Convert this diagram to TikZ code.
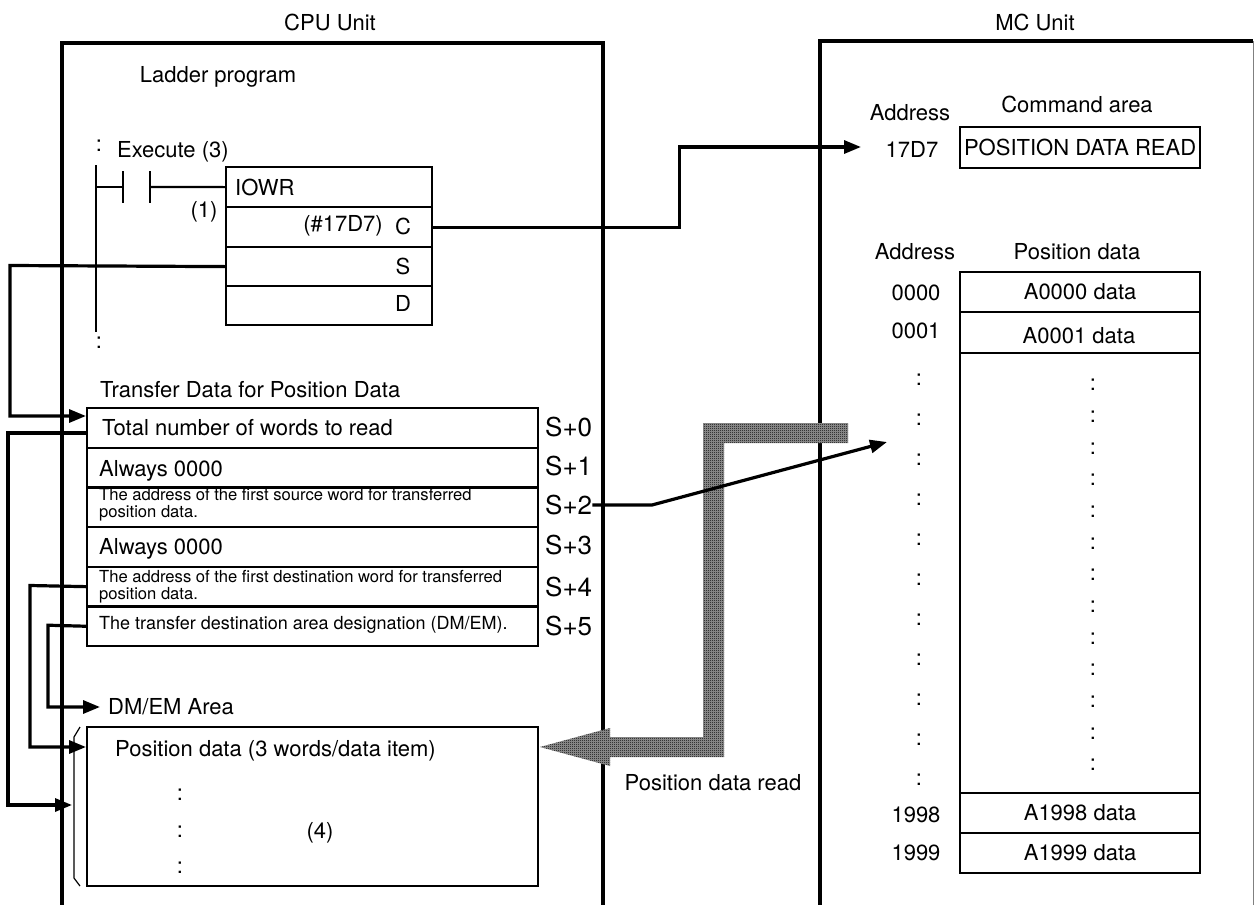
\documentclass[tikz,border=0pt]{standalone}
\usepackage{fontspec}
\setmainfont{TeX Gyre Heros}
\usetikzlibrary{arrows.meta,patterns}
\pgfdeclarepatternformonly{finechecker}{\pgfqpoint{0pt}{0pt}}{\pgfqpoint{2pt}{2pt}}{\pgfqpoint{2pt}{2pt}}{%
  \pgfpathrectangle{\pgfqpoint{0pt}{0pt}}{\pgfqpoint{1pt}{1pt}}%
  \pgfpathrectangle{\pgfqpoint{1pt}{1pt}}{\pgfqpoint{1pt}{1pt}}%
  \pgfusepath{fill}}
\begin{document}
\begin{tikzpicture}[x=1pt,y=-1pt,
  font=\fontsize{22}{26}\selectfont,
  frame/.style={line width=3.2pt},
  conn/.style={line width=3.2pt},
  arr/.style={conn,-{Triangle[length=17pt,width=13pt]}},
  cell/.style={draw,line width=2.2pt,inner sep=0pt,anchor=north west},
  lbl/.style={inner sep=0pt},
  small/.style={font=\fontsize{16.6}{18}\selectfont},
  slabel/.style={inner sep=0pt,anchor=west,font=\fontsize{26}{28}\selectfont}]
\useasboundingbox (0,0) rectangle (1254,905);

% titles and unit frames
\node[lbl] (cpu) at (330,22) {CPU Unit};
\node[lbl] (mc) at (1035,22) {MC Unit};
\draw[frame] (62,905) -- (62,43) -- (603,43) -- (603,905);
\draw[frame] (820,905) -- (820,41) -- (1253,41);
\draw[gray,line width=1pt] (1253,41) -- (1253,905);

\node[lbl] (ladder) at (218,77) {Ladder program};

% ladder
\node[lbl,anchor=west] (exe) at (117,152) {Execute (3)};
\node[lbl] (dt1) at (99,146) {:};
\coordinate (railtop) at (96,165);
\coordinate (railbot) at (96,332);
\draw[line width=2.2pt] (railtop) -- (railbot);
\node[lbl] (dt2) at (99,343) {:};

\node[cell,minimum width=206pt,minimum height=40pt] (iw0) at (225,166) {};
\node[cell,minimum width=206pt,minimum height=40pt] (iw1) at (225,206) {};
\node[cell,minimum width=206pt,minimum height=39pt] (iw2) at (225,246) {};
\node[cell,minimum width=206pt,minimum height=39pt] (iw3) at (225,285) {};
\node[lbl,anchor=west] (iowr) at (235,187) {IOWR};
\node[lbl] (one) at (204,212) {(1)};
\node[lbl,anchor=east] (hex) at (383,226) {(\#17D7)};
\node[lbl] (lc) at (403,226) {C};
\node[lbl] (ls) at (403,266) {S};
\node[lbl] (ld) at (403,303) {D};

\coordinate (c1) at (123,187);
\coordinate (c2) at (150,187);
\draw[line width=2.2pt] (96,187) -- (c1);
\draw[line width=2.2pt] (123,171) -- (123,203);
\draw[line width=2.2pt] (150,171) -- (150,203);
\draw[line width=2.2pt] (c2) -- (iw0.west);

% transfer data table
\node[lbl,anchor=west] (trt) at (100,390) {Transfer Data for Position Data};
\node[cell,minimum width=451pt,minimum height=39.7pt] (tr0) at (86,407) {};
\node[cell,minimum width=451pt,minimum height=39.7pt] (tr1) at (86,446.7) {};
\node[cell,minimum width=451pt,minimum height=39.7pt] (tr2) at (86,486.3) {};
\node[cell,minimum width=451pt,minimum height=39.7pt] (tr3) at (86,526) {};
\node[cell,minimum width=451pt,minimum height=39.7pt] (tr4) at (86,565.7) {};
\node[cell,minimum width=451pt,minimum height=39.7pt] (tr5) at (86,605.3) {};

\node[lbl,anchor=west] (t0) at (102,428) {Total number of words to read};
\node[lbl,anchor=west] (t1) at (99,471) {Always 0000};
\node[lbl,anchor=west,small] (t2a) at (99,495) {The address of the first source word for transferred};
\node[lbl,anchor=west,small] (t2b) at (99,513) {position data.};
\node[lbl,anchor=west] (t3) at (99,549) {Always 0000};
\node[lbl,anchor=west,small] (t4a) at (99,577) {The address of the first destination word for transferred};
\node[lbl,anchor=west,small] (t4b) at (99,595) {position data.};
\node[lbl,anchor=west,font=\fontsize{18}{20}\selectfont] (t5) at (99,625) {The transfer destination area designation (DM/EM).};

\node[slabel] (s0) at (545,427) {S+0};
\node[slabel] (s1) at (545,466) {S+1};
\node[slabel] (s2) at (545,505) {S+2};
\node[slabel] (s3) at (545,545) {S+3};
\node[slabel] (s4) at (545,587) {S+4};
\node[slabel] (s5) at (545,626) {S+5};

% DM/EM area
\node[lbl,anchor=west] (dmt) at (108,707) {DM/EM Area};
\node[cell,minimum width=451pt,minimum height=159pt] (dm) at (86,726) {};
\node[lbl,anchor=west] (pdt) at (115,751) {Position data (3 words/data item)};
\node[lbl] (dd1) at (180,795) {:};
\node[lbl] (dd2) at (180,832) {:};
\node[lbl] (dd3) at (180,868) {:};
\node[lbl] (four) at (320,833) {(4)};
\draw[line width=1.2pt] (80,727) -- (74,737) -- (74,878) -- (80,886);

% MC unit contents
\node[lbl] (adr1) at (910,113) {Address};
\node[lbl] (a17) at (912,149) {17D7};
\node[lbl] (cmdt) at (1077,104) {Command area};
\node[cell,minimum width=240pt,minimum height=41pt] (cmd) at (959,126) {POSITION DATA READ};

\node[lbl] (adr2) at (915,252) {Address};
\node[lbl] (pdh) at (1077,252) {Position data};
\node[cell,minimum width=240pt,minimum height=40pt] (pd0) at (959,271) {A0000 data};
\node[cell,minimum width=240pt,minimum height=41pt] (pd1) at (959,311) {};
\node[lbl] (pd1t) at (1079,336) {A0001 data};
\node[cell,minimum width=240pt,minimum height=440pt] (pdm) at (959,352) {};
\node[cell,minimum width=240pt,minimum height=40pt] (pd98) at (959,792) {A1998 data};
\node[cell,minimum width=240pt,minimum height=40pt] (pd99) at (959,832) {A1999 data};
\node[lbl] (ad0) at (916,293) {0000};
\node[lbl] (ad1) at (916,331) {0001};
\node[lbl] (ad98) at (916,815) {1998};
\node[lbl] (ad99) at (916,853) {1999};
\foreach \k in {0,...,10} \node[lbl] (ac\k) at (919,{380+40*\k}) {:};
\foreach \k in {0,...,12} \node[lbl] (dc\k) at (1093,{385+31.67*\k}) {:};

% hatched transfer arrow
\def\bandpath{(848,423) -- (703,423) -- (703,737) -- (610,737) -- (610,728) -- (540,747)
  -- (610,766) -- (610,757) -- (724,757) -- (724,443) -- (848,443) -- cycle}
\fill[black!40] \bandpath;
\fill[pattern=finechecker,pattern color=black] \bandpath;
\node[lbl] (pdr) at (713,783) {Position data read};

% connectors
\coordinate (cmdIn) at (861,147);
\coordinate (pdIn) at (887,442);
\coordinate (inS) at (86,416);
\coordinate (tr0out) at (86,433);
\coordinate (brIn) at (72,805);
\coordinate (dmIn) at (86,747);
\coordinate (dmArea) at (100,707);

\draw[arr] (iw1.east) -- ++(246,0) |- (cmdIn);
\draw[arr] (iw2.west) -- (10,265.5) |- (inS);
\draw[arr] (tr0out) -- (8,433) |- (brIn);
\draw[arr] (tr4.west) -- (30,585.5) |- (dmIn);
\draw[arr] (tr5.west) -- (48,625.2) |- (dmArea);
\draw[arr] (s2.east) -- (652,505) -- (pdIn);
\end{tikzpicture}
\end{document}
